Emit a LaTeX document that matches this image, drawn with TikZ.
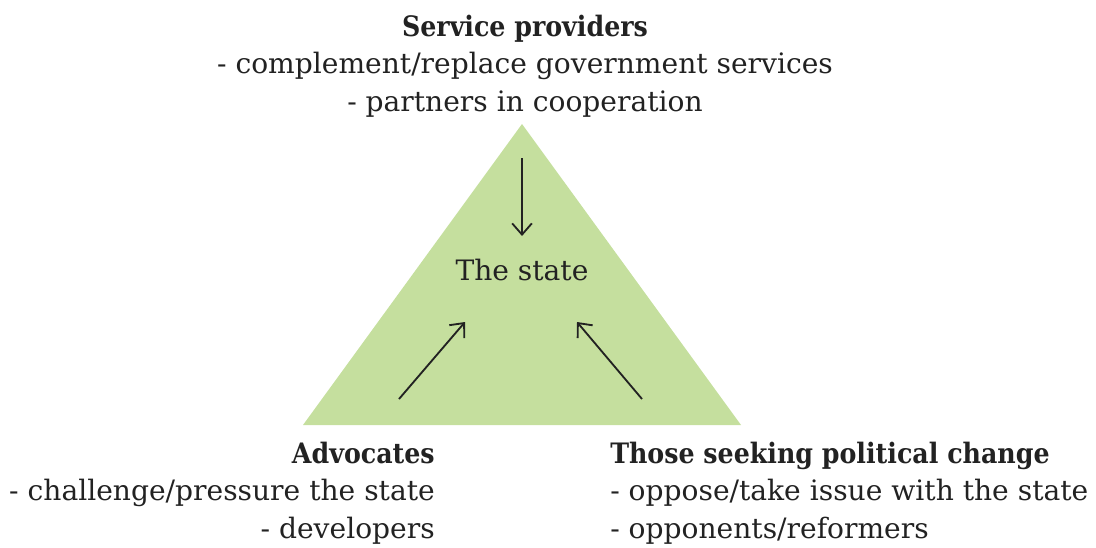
\documentclass[tikz,border=0pt]{standalone}
\usepackage{fontspec}
\setmainfont{DejaVu Serif}
\newfontfamily\headfont{DejaVu Serif Condensed}
\usetikzlibrary{arrows.meta}
\definecolor{stategreen}{HTML}{C5DF9E}
\definecolor{inkgray}{HTML}{222222}
\tikzset{
  label text/.style={font=\fontsize{20}{26.5}\selectfont, inner sep=0pt, text=inkgray},
  push arrow/.style={-{Straight Barb[length=8pt,width=14pt]}, line width=1.3pt, inkgray}
}
\newcommand{\grouphead}[1]{{\headfont\bfseries #1}}
\begin{document}
\begin{tikzpicture}[x=0.025cm, y=-0.025cm]
    \useasboundingbox (0,0) rectangle (1096,547);
    % triangle
    \fill[stategreen] (522,124) coordinate (apex) -- (303,425) coordinate (bl) -- (741,425) coordinate (br) -- cycle;
    \node[label text] (state) at (522,270) {The state};

    % arrows into the state
    \coordinate (topA) at (522,158);
    \coordinate (topB) at (522,236);
    \coordinate (leftA) at (399,399);
    \coordinate (leftB) at (465,322);
    \coordinate (rightA) at (642,399);
    \coordinate (rightB) at (577,322);
    \draw[push arrow] (topA) -- (topB);
    \draw[push arrow] (leftA) -- (leftB);
    \draw[push arrow] (rightA) -- (rightB);

    % actor groups
    \node[label text, align=center] (providers) at (525,66)
      {\grouphead{Service providers}\\- complement/replace government services\\- partners in cooperation};
    \node[label text, align=right, anchor=east] (advocates) at (435,493)
      {\grouphead{Advocates}\\- challenge/pressure the state\\- developers};
    \node[label text, align=left, anchor=west] (change) at (610,493)
      {\grouphead{Those seeking political change}\\- oppose/take issue with the state\\- opponents/reformers};
\end{tikzpicture}
\end{document}
